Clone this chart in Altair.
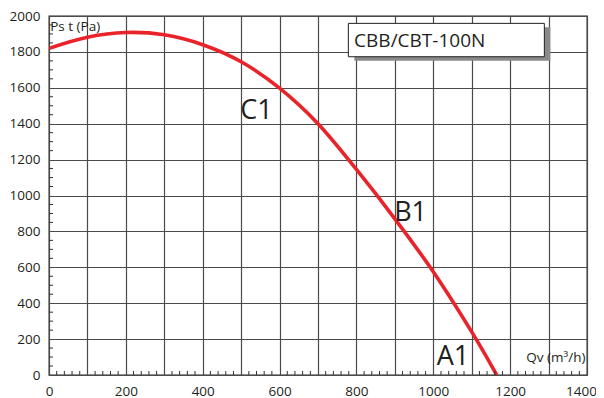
import altair as alt
import pandas as pd

# curve data (Qv in m3/h, Pst in Pa)
qv = [0, 100, 200, 300, 400, 500, 600, 700, 800, 900, 1000, 1100, 1165]
pst = [1820, 1882, 1908, 1895, 1840, 1745, 1598, 1400, 1145, 870, 575, 240, 0]

# curve labels
lab_text = ["C1", "B1", "A1"]
lab_x = [540, 941, 1051]
lab_y = [1469, 905, 100]

# axis ticks
x_grid = list(range(0, 1401, 100))
y_grid = list(range(0, 2001, 200))
x_minor = [v for v in range(0, 1401, 20) if v % 100 != 0]
y_minor = [v for v in range(0, 2001, 50) if v % 200 != 0]

model_name = "CBB/CBT-100N"
y_title = "Ps t  (Pa)"
x_title = "Qv  (m³/h)"

FONT = "Open Sans"
INK = "#231f20"
W, H = 538, 359
xs = alt.Scale(domain=[0, 1400], nice=False, zero=False)
ys = alt.Scale(domain=[0, 2000], nice=False, zero=False)

x_axis = alt.Axis(
    values=x_grid, title=None, grid=True, ticks=False, tickSize=0, domain=False, format="d",
    labelExpr="datum.value % 200 == 0 ? datum.label : ''",
    labelOffset={"condition": {"test": "datum.value == 1400", "value": -6}, "value": 0},
    labelFontSize=13.5, labelPadding=9, labelColor=INK, labelFont=FONT,
    gridColor="#4a4a4a", gridWidth=1.2, labelFlush=False, labelOverlap=False)
y_axis = alt.Axis(
    values=y_grid, title=None, grid=True, ticks=False, tickSize=0, domain=False, format="d",
    labelFontSize=13.5, labelPadding=9, labelColor=INK, labelFont=FONT,
    gridColor="#4a4a4a", gridWidth=1.2, labelFlush=False, labelOverlap=False)


def X(field="x"):
    return alt.X(f"{field}:Q", scale=xs, axis=x_axis)


def Y(field="y"):
    return alt.Y(f"{field}:Q", scale=ys, axis=y_axis)


curve_df = pd.DataFrame({"x": qv, "y": pst})
base_line = alt.Chart(curve_df).mark_line(
    color="#e8232a", strokeWidth=3.6, interpolate="cardinal", clip=True
).encode(x=X(), y=Y())

xm = alt.Chart(pd.DataFrame({"x": x_minor})).mark_rule(color="#333333", strokeWidth=1).encode(
    x=X(), y=alt.value(H), y2=alt.value(H - 4))
ym = alt.Chart(pd.DataFrame({"y": y_minor})).mark_rule(color="#333333", strokeWidth=1).encode(
    y=Y(), x=alt.value(0), x2=alt.value(4))

labels = alt.Chart(pd.DataFrame({"x": lab_x, "y": lab_y, "t": lab_text})).mark_text(
    fontSize=27, font=FONT, color=INK, align="center", baseline="middle"
).encode(x=X(), y=Y(), text="t:N")

ytitle = alt.Chart(pd.DataFrame({"x": [3], "y": [1938], "t": [y_title]})).mark_text(
    fontSize=13.5, font=FONT, color=INK, baseline="middle", align="left"
).encode(x=X(), y=Y(), text="t:N")
xtitle = alt.Chart(pd.DataFrame({"x": [1396], "y": [95], "t": [x_title]})).mark_text(
    fontSize=13.5, font=FONT, color=INK, baseline="middle", align="right"
).encode(x=X(), y=Y(), text="t:N")

box_df = pd.DataFrame({"x": [779], "x2": [1289], "y": [1959], "y2": [1773]})
shadow = alt.Chart(box_df).mark_rect(color="#8a8a8a", xOffset=6, x2Offset=6, yOffset=4, y2Offset=4).encode(
    x=X(), x2="x2:Q", y=Y(), y2="y2:Q")
box = alt.Chart(box_df).mark_rect(fill="white", stroke=INK, strokeWidth=1).encode(
    x=X(), x2="x2:Q", y=Y(), y2="y2:Q")
box_text = alt.Chart(pd.DataFrame({"x": [794], "y": [1862], "t": [model_name]})).mark_text(
    fontSize=19, font=FONT, color=INK, align="left", baseline="middle"
).encode(x=X(), y=Y(), text="t:N")

chart = alt.layer(base_line, xm, ym, labels, ytitle, xtitle, shadow, box, box_text).properties(
    width=W, height=H,
    autosize=alt.AutoSizeParams(type="none"),
    padding={"left": 41, "top": 8, "right": 9, "bottom": 23},
    background="white",
).configure_view(stroke=INK, strokeWidth=1.3)

chart.save("out.html", embed_options={"renderer": "svg", "actions": False})
